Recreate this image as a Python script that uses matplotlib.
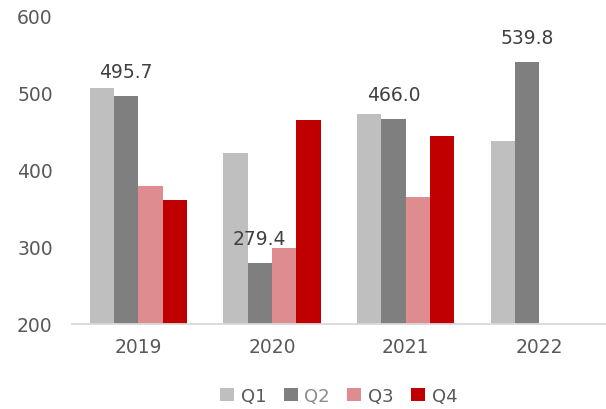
import matplotlib
matplotlib.use('Agg')
import matplotlib.pyplot as plt
from matplotlib.patches import Patch
import numpy as np

years = ['2019', '2020', '2021', '2022']
quarters = ['Q1', 'Q2', 'Q3', 'Q4']
q1 = [506, 422, 472, 437]
q2 = [495.7, 279.4, 466.0, 539.8]
q3 = [378, 299, 365, np.nan]
q4 = [361, 464, 444, np.nan]
yticks = [200, 300, 400, 500, 600]

series = [q1, q2, q3, q4]
colors = ['#BFBFBF', '#7F7F7F', '#DE8C8F', '#C00000']
text_color = '#595959'

plt.rcParams['font.family'] = ['DejaVu Sans']

fig = plt.figure(figsize=(6.06, 4.10), dpi=100)
ax = fig.add_axes([71.5 / 606, 85 / 410, 1 - 71.5 / 606, 309 / 410])

x = np.arange(len(years))
width = 0.182
for i, (vals, c) in enumerate(zip(series, colors)):
    ax.bar(x + (i - 1.5) * width, vals, width, color=c, zorder=2)

for xi, v in zip(x, q2):
    ax.annotate(f'{v:.1f}', (xi - 0.5 * width, v), xytext=(0, 13.5),
                textcoords='offset points', ha='center', va='baseline',
                fontsize=13.5, color='#404040')

ax.set_xlim(-0.5, 3.5)
ax.set_ylim(200, 600)
ax.set_yticks(yticks)
ax.set_xticks(x)
ax.set_xticklabels(years)
for s in ['top', 'right', 'left']:
    ax.spines[s].set_visible(False)
ax.spines['bottom'].set_color('#D9D9D9')
ax.spines['bottom'].set_linewidth(1.3)
ax.spines['bottom'].set_zorder(3)
ax.tick_params(axis='both', length=0, labelsize=13.5, colors=text_color)
ax.tick_params(axis='y', pad=13.5)
ax.tick_params(axis='x', pad=9.5)

handles = [Patch(facecolor=c, edgecolor='none') for c in colors]
leg = fig.legend(handles, quarters, loc='center', bbox_to_anchor=(338.8 / 606, 1 - 397 / 410),
                 ncol=4, frameon=False, fontsize=13, handlelength=0.78, handleheight=0.72,
                 handletextpad=0.37, columnspacing=0.96, borderaxespad=0)
for t, c in zip(leg.get_texts(), [text_color, '#8C8C8C', text_color, text_color]):
    t.set_color(c)

fig.savefig('out.png', dpi=100)
